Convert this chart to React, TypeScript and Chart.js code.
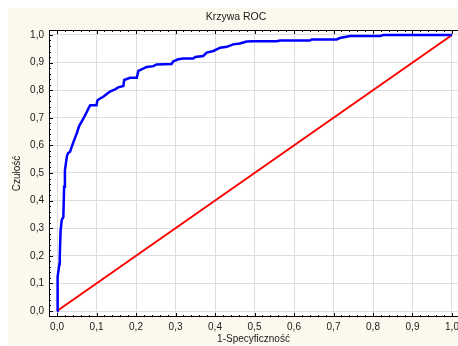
import React, { useEffect, useRef } from "react";
import { Chart, registerables } from "chart.js";

Chart.register(...registerables);

const CHART_TITLE = "Krzywa ROC";
const X_TITLE = "1-Specyficzność";
const Y_TITLE = "Czułość";

const TICK_VALUES = [0, 0.1, 0.2, 0.3, 0.4, 0.5, 0.6, 0.7, 0.8, 0.9, 1.0];

// ROC curve (1-specificity, sensitivity)
const rocFpr = [
  0, 0.001, 0.002, 0.006, 0.007, 0.009, 0.012, 0.016, 0.018, 0.02, 0.025, 0.028, 0.033,
  0.041, 0.05, 0.056, 0.067, 0.075, 0.08, 0.084, 0.1, 0.102, 0.106, 0.117, 0.126, 0.134,
  0.147, 0.155, 0.168, 0.17, 0.185, 0.202, 0.206, 0.218, 0.227, 0.244, 0.252, 0.29, 0.294,
  0.307, 0.32, 0.345, 0.35, 0.37, 0.379, 0.396, 0.413, 0.43, 0.446, 0.463, 0.48, 0.497,
  0.556, 0.565, 0.64, 0.645, 0.708, 0.716, 0.742, 0.818, 0.826, 1.0,
];
const rocTpr = [
  0, 0.06, 0.124, 0.17, 0.2, 0.29, 0.33, 0.34, 0.45, 0.51, 0.56, 0.572, 0.577,
  0.61, 0.644, 0.67, 0.698, 0.72, 0.735, 0.745, 0.745, 0.762, 0.767, 0.776, 0.786, 0.795,
  0.803, 0.81, 0.815, 0.837, 0.845, 0.845, 0.87, 0.878, 0.884, 0.887, 0.893, 0.895, 0.904,
  0.912, 0.915, 0.915, 0.92, 0.924, 0.936, 0.942, 0.954, 0.957, 0.966, 0.969, 0.976, 0.977,
  0.977, 0.98, 0.98, 0.984, 0.984, 0.989, 0.996, 0.996, 1.0, 1.0,
];

// Reference diagonal
const diagX = [0, 1];
const diagY = [0, 1];

const FONT = "'Liberation Sans', Arial, sans-serif";
const CREAM = "#fcf8ed";

const fmt = (v: number) => v.toFixed(1).replace(".", ",");

const framePlugin = {
  id: "framePlugin",
  beforeDraw(chart: any) {
    const { ctx, chartArea: a, width, height } = chart;
    ctx.save();
    ctx.fillStyle = CREAM;
    ctx.fillRect(0, 0, width, height);
    ctx.fillStyle = "#ffffff";
    ctx.fillRect(a.left, a.top, a.right - a.left, a.bottom - a.top);
    ctx.fillStyle = "#1a1a1a";
    ctx.font = `10.5px ${FONT}`;
    ctx.textAlign = "center";
    ctx.textBaseline = "middle";
    ctx.fillText(CHART_TITLE, 228, 9);
    ctx.restore();
  },
  beforeDatasetsDraw(chart: any) {
    const { ctx, chartArea: a, scales } = chart;
    const xs = scales.x;
    const ys = scales.y;
    ctx.save();
    ctx.strokeStyle = "#000000";
    ctx.lineWidth = 1;
    ctx.beginPath();
    // left, bottom, top borders
    ctx.moveTo(a.left + 0.5, a.top);
    ctx.lineTo(a.left + 0.5, a.bottom);
    ctx.moveTo(a.left, a.bottom - 0.5);
    ctx.lineTo(a.right, a.bottom - 0.5);
    ctx.moveTo(a.left, a.top + 0.5);
    ctx.lineTo(a.right, a.top + 0.5);
    for (let i = 0; i <= 50; i++) {
      const v = i / 50;
      const major = i % 5 === 0;
      const len = major ? 4 : 2;
      const px = Math.round(xs.getPixelForValue(v)) + 0.5;
      ctx.moveTo(px, a.bottom);
      ctx.lineTo(px, a.bottom - len);
      ctx.moveTo(px, a.top);
      ctx.lineTo(px, a.top + len);
      const py = Math.round(ys.getPixelForValue(v)) + 0.5;
      ctx.moveTo(a.left, py);
      ctx.lineTo(a.left + len, py);
    }
    ctx.stroke();
    ctx.restore();
  },
};

export default function App() {
  const ref = useRef<HTMLCanvasElement | null>(null);

  useEffect(() => {
    if (!ref.current) return;
    const tickFont = { family: FONT, size: 10 };
    const chart = new Chart(ref.current, {
      type: "line",
      data: {
        datasets: [
          {
            label: "ROC",
            data: rocFpr.map((x, i) => ({ x, y: rocTpr[i] })),
            borderColor: "#0000ff",
            borderWidth: 2.5,
            pointRadius: 0,
            tension: 0,
            fill: false,
          },
          {
            label: "Diagonal",
            data: diagX.map((x, i) => ({ x, y: diagY[i] })),
            borderColor: "#ff0000",
            borderWidth: 2,
            pointRadius: 0,
            tension: 0,
            fill: false,
          },
        ],
      },
      options: {
        animation: false,
        responsive: false,
        layout: { autoPadding: false, padding: { top: 22, left: 0, right: 0, bottom: 0 } },
        plugins: {
          legend: { display: false },
          tooltip: { enabled: false },
          title: { display: false },
        },
        scales: {
          x: {
            type: "linear",
            min: -0.0203,
            max: 1.0152,
            afterBuildTicks: (s: any) => {
              s.ticks = TICK_VALUES.map((value) => ({ value }));
            },
            afterFit: (s: any) => {
              s.height = 29;
              s.paddingLeft = 0;
              s.paddingRight = 0;
            },
            grid: { color: "#dddddd", lineWidth: 1, drawTicks: false },
            border: { display: false },
            ticks: {
              font: tickFont,
              color: "#1a1a1a",
              padding: 4,
              maxRotation: 0,
              autoSkip: false,
              callback: (v: any) => fmt(Number(v)),
            },
            title: {
              display: true,
              text: X_TITLE,
              font: tickFont,
              color: "#1a1a1a",
              padding: { top: 0, bottom: 1 },
            },
          },
          y: {
            type: "linear",
            min: -0.0217,
            max: 1.018,
            afterBuildTicks: (s: any) => {
              s.ticks = TICK_VALUES.map((value) => ({ value }));
            },
            afterFit: (s: any) => {
              s.width = 41;
              s.paddingTop = 0;
              s.paddingBottom = 0;
            },
            grid: { color: "#dddddd", lineWidth: 1, drawTicks: false },
            border: { display: false },
            ticks: {
              font: tickFont,
              color: "#1a1a1a",
              padding: 5,
              autoSkip: false,
              callback: (v: any) => fmt(Number(v)),
            },
            title: {
              display: true,
              text: Y_TITLE,
              font: tickFont,
              color: "#1a1a1a",
              padding: { top: 3, bottom: 0 },
            },
          },
        },
      },
      plugins: [framePlugin],
    });
    return () => chart.destroy();
  }, []);

  return (
    <div style={{ position: "fixed", left: 8, top: 8, width: 450, height: 338 }}>
      <canvas ref={ref} width={450} height={338} style={{ display: "block" }} />
    </div>
  );
}
